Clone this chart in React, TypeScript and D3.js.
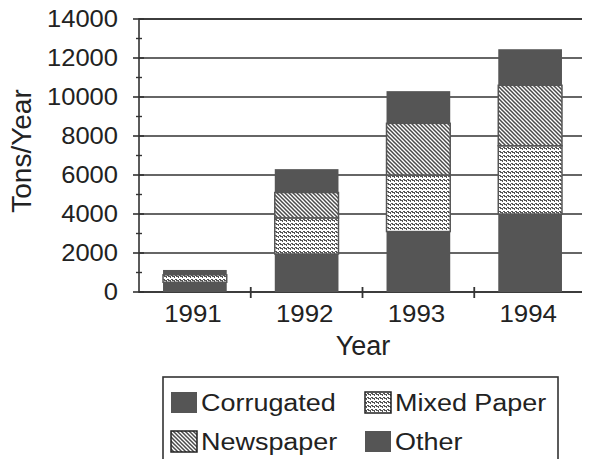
import { useRef, useEffect } from 'react';
import * as d3 from 'd3';

const years = ['1991', '1992', '1993', '1994'];
const corrugated = [500, 1950, 3100, 4000];
const mixedPaper = [380, 1850, 2900, 3500];
const newspaper = [0, 1300, 2650, 3100];
const other = [250, 1200, 1650, 1850];
const yTicks = [0, 2000, 4000, 6000, 8000, 10000, 12000, 14000];

const seriesNames = ['Corrugated', 'Mixed Paper', 'Newspaper', 'Other'];
const seriesFill = ['#555', 'url(#mixed)', 'url(#news)', '#555'];

const font = 'Arial, "Liberation Sans", Helvetica, sans-serif';
const ink = '#222';

// the scanned type is a bit wider than Arial, so stretch it sideways
function label(
  parent: d3.Selection<any, any, any, any>,
  x: number,
  y: number,
  text: string,
  size: number,
  sx: number,
  anchor = 'start',
) {
  parent
    .append('text')
    .attr('transform', `translate(${x},${y}) scale(${sx},1)`)
    .attr('text-anchor', anchor)
    .attr('fill', ink)
    .style('font-family', font)
    .style('font-size', `${size}px`)
    .text(text);
}

export default function App() {
  const svgRef = useRef<SVGSVGElement>(null);

  useEffect(() => {
    if (!svgRef.current) return;
    const width = 590;
    const height = 463;
    const svg = d3.select(svgRef.current);
    svg.selectAll('*').remove();
    svg.attr('width', width).attr('height', height);

    const defs = svg.append('defs');
    // mixed paper: white with staggered little dark dashes
    const mp = defs
      .append('pattern')
      .attr('id', 'mixed')
      .attr('patternUnits', 'userSpaceOnUse')
      .attr('width', 4)
      .attr('height', 4);
    mp.append('rect').attr('width', 4).attr('height', 4).attr('fill', '#fff');
    mp.append('path')
      .attr('d', 'M0,0h2v1h-2z M1,1h3v1h-3z M3,2h1v1h-1z')
      .attr('fill', '#555');
    // newspaper: back-diagonal stripes
    const np = defs
      .append('pattern')
      .attr('id', 'news')
      .attr('patternUnits', 'userSpaceOnUse')
      .attr('width', 4)
      .attr('height', 4);
    np.append('rect').attr('width', 4).attr('height', 4).attr('fill', '#fff');
    np.append('path')
      .attr('d', 'M-1,-1 L5,5 M-1,3 L1,5 M3,-1 L5,1')
      .attr('stroke', '#4a4a4a')
      .attr('stroke-width', 1.5);

    const margin = { top: 19, right: 4, bottom: 171, left: 139 };
    const innerWidth = width - margin.left - margin.right;
    const innerHeight = height - margin.top - margin.bottom;

    const g = svg.append('g').attr('transform', `translate(${margin.left},${margin.top})`);

    const x = d3.scaleBand().domain(years).range([0, innerWidth]).paddingInner(0.43).paddingOuter(0.215);
    const band = d3.scaleBand().domain(years).range([0, innerWidth]);
    const y = d3.scaleLinear().domain([0, 14000]).range([innerHeight, 0]);

    // gridlines
    g.selectAll('.grid')
      .data(yTicks)
      .enter()
      .append('line')
      .attr('x1', 0)
      .attr('x2', innerWidth)
      .attr('y1', (d) => y(d))
      .attr('y2', (d) => y(d))
      .attr('stroke', '#333')
      .attr('stroke-width', 1.6);
    // frame
    g.append('rect')
      .attr('width', innerWidth)
      .attr('height', innerHeight)
      .attr('fill', 'none')
      .attr('stroke', '#333')
      .attr('stroke-width', 1.6);

    // stacked bars
    const table = years.map((yr, i) => ({
      year: yr,
      Corrugated: corrugated[i],
      'Mixed Paper': mixedPaper[i],
      Newspaper: newspaper[i],
      Other: other[i],
    }));
    const stack = d3.stack<any>().keys(seriesNames)(table);

    stack.forEach((layer, si) => {
      g.append('g')
        .selectAll('rect')
        .data(layer.filter((d) => d[1] > d[0]))
        .enter()
        .append('rect')
        .attr('x', (d) => x(d.data.year) || 0)
        .attr('width', x.bandwidth())
        .attr('y', (d) => y(d[1]))
        .attr('height', (d) => y(d[0]) - y(d[1]))
        .attr('fill', seriesFill[si])
        .attr('stroke', '#555')
        .attr('stroke-width', si === 1 || si === 2 ? 1.5 : 0);
    });

    // y axis major / minor ticks
    const minor = d3.range(1000, 14000, 2000);
    g.selectAll('.ytick')
      .data(yTicks)
      .enter()
      .append('line')
      .attr('x1', -6)
      .attr('x2', 5)
      .attr('y1', (d) => y(d))
      .attr('y2', (d) => y(d))
      .attr('stroke', '#333')
      .attr('stroke-width', 1.6);
    g.selectAll('.yminor')
      .data(minor)
      .enter()
      .append('line')
      .attr('x1', -3)
      .attr('x2', 3)
      .attr('y1', (d) => y(d))
      .attr('y2', (d) => y(d))
      .attr('stroke', '#333')
      .attr('stroke-width', 1.4);
    yTicks.forEach((t) => label(g, -21, y(t) + 8, String(t), 23, 1.11, 'end'));

    // x category dividers
    g.selectAll('.xtick')
      .data(years.slice(1))
      .enter()
      .append('line')
      .attr('x1', (d) => band(d) || 0)
      .attr('x2', (d) => band(d) || 0)
      .attr('y1', innerHeight - 5)
      .attr('y2', innerHeight + 6)
      .attr('stroke', '#333')
      .attr('stroke-width', 1.8);
    years.forEach((yr) => label(g, (x(yr) || 0) + x.bandwidth() / 2 - 2, innerHeight + 30, yr, 23.5, 1.1, 'middle'));

    // axis titles
    svg.append('text')
      .attr('transform', 'translate(31,151) rotate(-90)')
      .attr('text-anchor', 'middle')
      .attr('fill', ink)
      .style('font-family', font)
      .style('font-size', '28px')
      .text('Tons/Year');
    label(svg, 363, 355, 'Year', 27, 1, 'middle');

    // legend
    const lg = svg.append('g').attr('transform', 'translate(163,377)');
    lg.append('rect')
      .attr('width', 395)
      .attr('height', 84)
      .attr('fill', '#fff')
      .attr('stroke', '#333')
      .attr('stroke-width', 1.6);
    const legendPos = [
      { x: 8, y: 15 },
      { x: 202, y: 15 },
      { x: 8, y: 54 },
      { x: 202, y: 54 },
    ];
    seriesNames.forEach((name, i) => {
      const p = legendPos[i];
      lg.append('rect')
        .attr('x', p.x)
        .attr('y', p.y)
        .attr('width', 26)
        .attr('height', 21)
        .attr('fill', seriesFill[i])
        .attr('stroke', i === 1 || i === 2 ? '#222' : 'none')
        .attr('stroke-width', 1.5);
      label(lg, p.x + 30, p.y + 19, name, 24.5, 1.1);
    });
  }, []);

  return (
    <div style={{ margin: -8 }}>
      <svg ref={svgRef} />
    </div>
  );
}
